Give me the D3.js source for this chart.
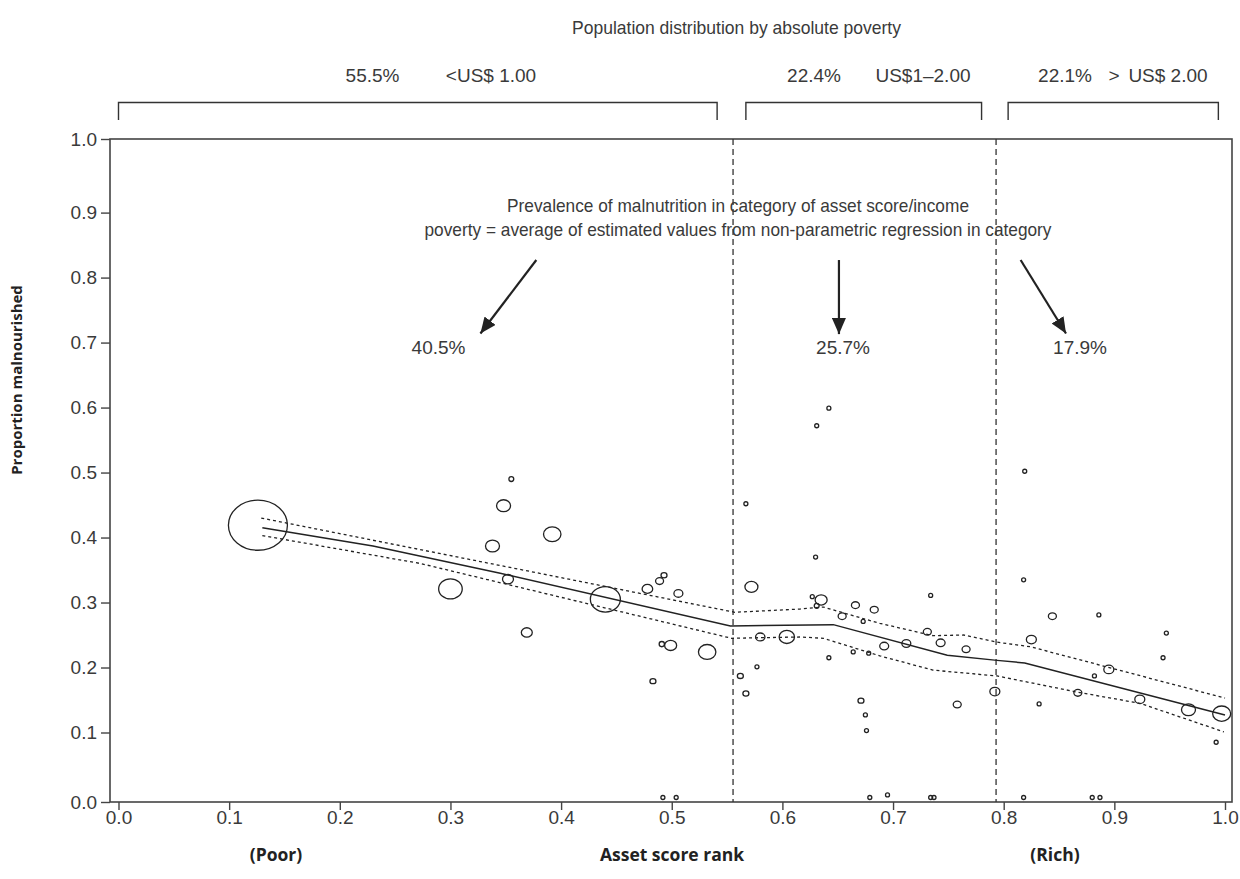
<!DOCTYPE html>
<html><head><meta charset="utf-8">
<script src="https://cdn.jsdelivr.net/npm/d3@7"></script>
<style>
body{margin:0;background:#fff;}
svg text{font-family:'Liberation Sans Narrow','Arial Narrow','Liberation Sans',sans-serif;}
</style></head><body>
<svg id="chart" width="1240" height="879"></svg>
<script>
// ---- data ----
const ptX = [0.126,0.300,0.338,0.348,0.355,0.392,0.352,0.440,0.369,0.478,0.489,0.493,0.506,0.491,0.499,0.532,0.483,0.492,0.504,
  0.567,0.572,0.580,0.604,0.577,0.562,0.567,0.631,0.642,0.630,0.819,0.818,0.627,0.635,0.631,0.734,0.666,0.683,0.654,0.673,
  0.844,0.886,0.731,0.947,0.825,0.743,0.712,0.692,0.766,0.642,0.664,0.678,0.944,0.895,0.882,0.792,0.867,0.923,0.671,0.758,
  0.832,0.967,0.997,0.675,0.676,0.992,0.679,0.695,0.734,0.737,0.818,0.880,0.887];
const ptY = [0.419,0.321,0.387,0.449,0.490,0.405,0.336,0.305,0.254,0.321,0.333,0.342,0.314,0.236,0.234,0.224,0.179,0.0,0.0,
  0.452,0.324,0.247,0.247,0.201,0.187,0.160,0.572,0.599,0.370,0.502,0.335,0.309,0.304,0.295,0.311,0.296,0.289,0.279,0.271,
  0.279,0.281,0.255,0.253,0.243,0.238,0.237,0.233,0.228,0.215,0.224,0.222,0.215,0.197,0.187,0.163,0.161,0.151,0.149,0.143,
  0.144,0.135,0.129,0.127,0.103,0.085,0.0,0.004,0.0,0.0,0.0,0.0,0.0];
const ptW = [870,139,49,49,6,76,30,225,30,28,16,9,20,7,36,76,9,4,4,
  4,42,22,59,4,9,9,4,4,4,4,4,4,36,6,4,16,16,16,4,
  16,4,16,4,25,20,20,20,16,4,4,4,4,25,4,25,16,25,9,16,
  4,49,81,4,4,4,4,4,4,4,4,4,4];

const fitX = [0.130,0.230,0.345,0.553,0.646,0.749,0.794,0.819,1.0];
const fitY = [0.415,0.387,0.345,0.264,0.266,0.219,0.211,0.207,0.127];
const upperX = [0.129,0.345,0.554,0.557,0.616,0.637,0.688,0.736,0.764,0.794,0.824,1.0];
const upperY = [0.430,0.357,0.286,0.285,0.290,0.293,0.268,0.249,0.250,0.239,0.232,0.153];
const lowerX = [0.130,0.273,0.554,0.616,0.637,0.688,0.736,0.794,0.867,0.923,0.999];
const lowerY = [0.403,0.360,0.245,0.247,0.245,0.218,0.196,0.187,0.162,0.145,0.101];

const cutoffs = [0.5554,0.7931];
const xTicks = [0,0.1,0.2,0.3,0.4,0.5,0.6,0.7,0.8,0.9,1.0];
const yTicks = [0,0.1,0.2,0.3,0.4,0.5,0.6,0.7,0.8,0.9,1.0];
const shareLabels = ["55.5%","22.4%","22.1%"];
const incomeLabels = ["<US$ 1.00","US$1\u20132.00","US$ 2.00"];
const prevalenceLabels = ["40.5%","25.7%","17.9%"];
const titleText = "Population distribution by absolute poverty";
const noteLines = ["Prevalence of malnutrition in category of asset score/income",
  "poverty = average of estimated values from non-parametric regression in category"];
const yTitle = "Proportion malnourished";
const xTitle = "Asset score rank";
const poorLabel = "(Poor)", richLabel = "(Rich)";

// ---- layout ----
const svg = d3.select("#chart");
const frame = {l:110, r:1232, t:139, b:802};
const x = d3.scaleLinear().domain([0,1]).range([118.5,1225]);
const y = d3.scaleLinear().domain([0,1]).range([797.5,147.6]);
const yAxisScale = d3.scaleLinear().domain([0,0.1,0.9,1]).range([frame.b,732.5,212.6,frame.t]);
const r = d3.scaleSqrt().domain([0,870]).range([0,29.5]);
const ink = "#222", txt = "#3a3a3a";

// frame
svg.append("rect").attr("x",frame.l).attr("y",frame.t)
  .attr("width",frame.r-frame.l).attr("height",frame.b-frame.t)
  .attr("fill","none").attr("stroke","#444").attr("stroke-width",1.6);

// axes
const gx = svg.append("g").attr("transform",`translate(0,${frame.b})`)
  .call(d3.axisBottom(x).tickValues(xTicks).tickSize(8).tickPadding(1).tickFormat(d3.format(".1f")));
const gy = svg.append("g").attr("transform",`translate(${frame.l},0)`)
  .call(d3.axisLeft(yAxisScale).tickValues(yTicks).tickSize(9).tickPadding(4).tickFormat(d3.format(".1f")));
[gx,gy].forEach(g=>{
  g.select(".domain").remove();
  g.selectAll(".tick line").attr("stroke","#444").attr("stroke-width",1.4);
  g.selectAll(".tick text").attr("fill",txt).style("font-size","19px")
   .style("font-family","'Liberation Sans Narrow','Arial Narrow','Liberation Sans',sans-serif");
});

// cutoff lines
svg.selectAll("line.cut").data(cutoffs).join("line").attr("class","cut")
  .attr("x1",d=>x(d)).attr("x2",d=>x(d)).attr("y1",frame.t).attr("y2",frame.b)
  .attr("stroke","#333").attr("stroke-width",1.3).attr("stroke-dasharray","6,4");

// fit lines
const line = d3.line().x(d=>x(d[0])).y(d=>y(d[1]));
svg.append("path").datum(d3.zip(upperX,upperY)).attr("d",line)
  .attr("fill","none").attr("stroke",ink).attr("stroke-width",1.3).attr("stroke-dasharray","3,3");
svg.append("path").datum(d3.zip(lowerX,lowerY)).attr("d",line)
  .attr("fill","none").attr("stroke",ink).attr("stroke-width",1.3).attr("stroke-dasharray","3,3");
svg.append("path").datum(d3.zip(fitX,fitY)).attr("d",line)
  .attr("fill","none").attr("stroke",ink).attr("stroke-width",1.5);

// bubbles
const pts = ptX.map((v,i)=>({x:v,y:ptY[i],w:ptW[i]}));
svg.append("g").selectAll("ellipse").data(pts).join("ellipse")
  .attr("cx",d=>x(d.x)).attr("cy",d=>y(d.y))
  .attr("rx",d=>r(d.w)).attr("ry",d=>r(d.w)<3?r(d.w):r(d.w)*0.85)
  .attr("fill","none").attr("stroke",ink).attr("stroke-width",1.3);

// top title and brackets
svg.append("text").attr("x",736.5).attr("y",27).attr("dy","0.35em").attr("text-anchor","middle")
  .attr("fill",txt).style("font-size","19px")
  .attr("textLength",329).attr("lengthAdjust","spacingAndGlyphs").text(titleText);
const brackets = [[0.0,0.541],[0.567,0.780],[0.804,0.994]];
const bY = 102.5, bY2 = 120;
svg.append("g").selectAll("path").data(brackets).join("path")
  .attr("d",d=>`M${x(d[0])},${bY2}V${bY}H${x(d[1])}V${bY2}`)
  .attr("fill","none").attr("stroke","#333").attr("stroke-width",1.4);
const shareCx = [372.5,814,1065], incomeCx = [491,923,1168];
shareLabels.forEach((s,i)=>{
  svg.append("text").attr("x",shareCx[i]).attr("y",75).attr("dy","0.35em").attr("text-anchor","middle")
    .attr("fill",txt).style("font-size","19px").text(s);
  svg.append("text").attr("x",incomeCx[i]).attr("y",75).attr("dy","0.35em").attr("text-anchor","middle")
    .attr("fill",txt).style("font-size","19px").text(incomeLabels[i]);
});
svg.append("text").attr("x",1114).attr("y",75).attr("dy","0.35em").attr("text-anchor","middle")
  .attr("fill",txt).style("font-size","19px").text(">");

// note text
const noteW = [462,627];
noteLines.forEach((t,i)=>{
  svg.append("text").attr("x",738).attr("y",205+i*24).attr("dy","0.35em").attr("text-anchor","middle")
    .attr("fill",txt).style("font-size","19px")
    .attr("textLength",noteW[i]).attr("lengthAdjust","spacingAndGlyphs").text(t);
});

// arrows
const defs = svg.append("defs");
defs.append("marker").attr("id","ah").attr("viewBox","0 0 16 14").attr("refX",16).attr("refY",7)
  .attr("markerWidth",16).attr("markerHeight",14).attr("markerUnits","userSpaceOnUse").attr("orient","auto")
  .append("path").attr("d","M0,0L16,7L0,14Z").attr("fill",ink);
const arrows = [[0.3776,0.827,0.3271,0.714],[0.6511,0.827,0.6511,0.713],[0.8153,0.827,0.8563,0.714]];
svg.append("g").selectAll("line").data(arrows).join("line")
  .attr("x1",d=>x(d[0])).attr("y1",d=>y(d[1])).attr("x2",d=>x(d[2])).attr("y2",d=>y(d[3]))
  .attr("stroke",ink).attr("stroke-width",2.2).attr("marker-end","url(#ah)");
const prevCx = [438.5,843,1080];
prevalenceLabels.forEach((s,i)=>{
  svg.append("text").attr("x",prevCx[i]).attr("y",347).attr("dy","0.35em").attr("text-anchor","middle")
    .attr("fill",txt).style("font-size","19px").text(s);
});

// axis titles
const boldFont = "'Open Sans','Liberation Sans',sans-serif";
svg.append("text").attr("transform","translate(17,380) rotate(-90)").attr("dy","0.35em")
  .attr("text-anchor","middle").attr("fill",ink).style("font-family",boldFont)
  .style("font-weight","bold").style("font-size","15px").text(yTitle);
[[276,poorLabel],[672,xTitle],[1055,richLabel]].forEach(([cx,t])=>{
  svg.append("text").attr("x",cx).attr("y",855).attr("dy","0.35em").attr("text-anchor","middle")
    .attr("fill",ink).style("font-family",boldFont).style("font-weight","bold").style("font-size","17.5px").text(t);
});
</script>
</body></html>
